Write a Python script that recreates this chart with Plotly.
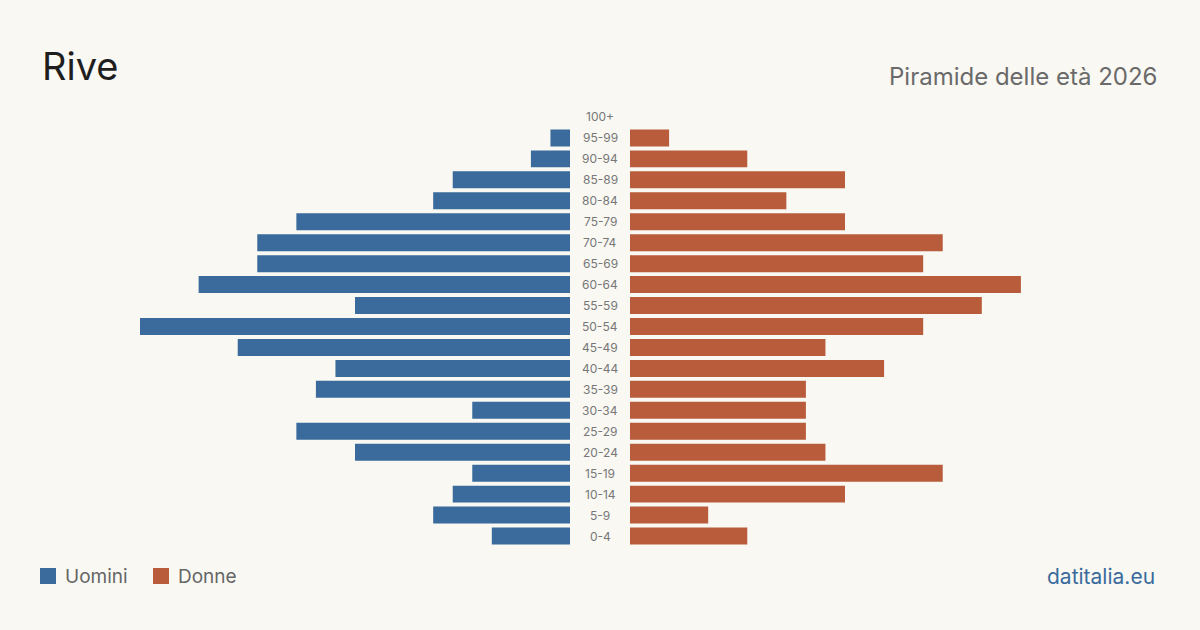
import plotly.graph_objects as go

age_groups = ["0-4", "5-9", "10-14", "15-19", "20-24", "25-29", "30-34", "35-39",
              "40-44", "45-49", "50-54", "55-59", "60-64", "65-69", "70-74",
              "75-79", "80-84", "85-89", "90-94", "95-99", "100+"]
men = [4, 7, 6, 5, 11, 14, 5, 13, 12, 17, 22, 11, 19, 16, 16, 14, 7, 6, 2, 1, 0]
women = [6, 4, 11, 16, 10, 9, 9, 9, 13, 10, 15, 18, 20, 15, 16, 11, 8, 11, 6, 2, 0]

title = "Rive"
subtitle = "Piramide delle età 2026"
source = "datitalia.eu"
legend_names = ["Uomini", "Donne"]

BLUE = "#3a6b9c"
ORANGE = "#b95c3b"
BG = "#f9f8f3"
FONT = "Inter, Noto Sans, sans-serif"

W, H = 1200, 630
xmax = max(max(men), max(women))

fig = go.Figure()
fig.add_trace(go.Bar(y=age_groups, x=men, orientation="h", marker_color=BLUE,
                     marker_line_width=0,
                     xaxis="x", yaxis="y", name=legend_names[0], showlegend=False,
                     hoverinfo="skip"))
fig.add_trace(go.Bar(y=age_groups, x=women, orientation="h", marker_color=ORANGE,
                     marker_line_width=0,
                     xaxis="x2", yaxis="y", name=legend_names[1], showlegend=False,
                     hoverinfo="skip"))

top_px = 117 - 10.5
bot_px = 536 + 10.5
ydom = [(H - bot_px) / H, (H - top_px) / H]

annotations = []
for g in age_groups:
    annotations.append(dict(x=0.5, xref="paper", y=g, yref="y", text=g,
                            showarrow=False, xanchor="center", yanchor="middle",
                            font=dict(family=FONT, size=12, color="#777")))

annotations += [
    dict(x=40 / W, y=1 - 66 / H, xref="paper", yref="paper", text=title,
         showarrow=False, xanchor="left", yanchor="middle",
         font=dict(family=FONT, size=38, color="#1e1e1e")),
    dict(x=1159 / W, y=1 - 76 / H, xref="paper", yref="paper", text=subtitle,
         showarrow=False, xanchor="right", yanchor="middle",
         font=dict(family=FONT, size=24, color="#6a6a6a")),
    dict(x=1157 / W, y=1 - 576 / H, xref="paper", yref="paper", text=source,
         showarrow=False, xanchor="right", yanchor="middle",
         font=dict(family=FONT, size=21, color=BLUE)),
    dict(x=63 / W, y=1 - 576 / H, xref="paper", yref="paper", text=legend_names[0],
         showarrow=False, xanchor="left", yanchor="middle",
         font=dict(family=FONT, size=19, color="#666")),
    dict(x=176 / W, y=1 - 576 / H, xref="paper", yref="paper", text=legend_names[1],
         showarrow=False, xanchor="left", yanchor="middle",
         font=dict(family=FONT, size=19, color="#666")),
]

shapes = [
    dict(type="rect", xref="paper", yref="paper", x0=40 / W, x1=56 / W,
         y0=1 - 584 / H, y1=1 - 568 / H, fillcolor=BLUE, line_width=0),
    dict(type="rect", xref="paper", yref="paper", x0=153 / W, x1=169 / W,
         y0=1 - 584 / H, y1=1 - 568 / H, fillcolor=ORANGE, line_width=0),
]

fig.update_layout(
    width=W, height=H,
    margin=dict(l=0, r=0, t=0, b=0),
    paper_bgcolor=BG, plot_bgcolor=BG,
    bargap=0.19,
    xaxis=dict(domain=[140 / W, 570 / W], range=[xmax, 0], visible=False, fixedrange=True),
    xaxis2=dict(domain=[630 / W, 1060 / W], range=[0, xmax], visible=False, fixedrange=True),
    yaxis=dict(domain=ydom, visible=False, categoryorder="array",
               categoryarray=age_groups, fixedrange=True),
    annotations=annotations,
    shapes=shapes,
    showlegend=False,
)

fig.write_html("out.html", config=dict(displayModeBar=False))
